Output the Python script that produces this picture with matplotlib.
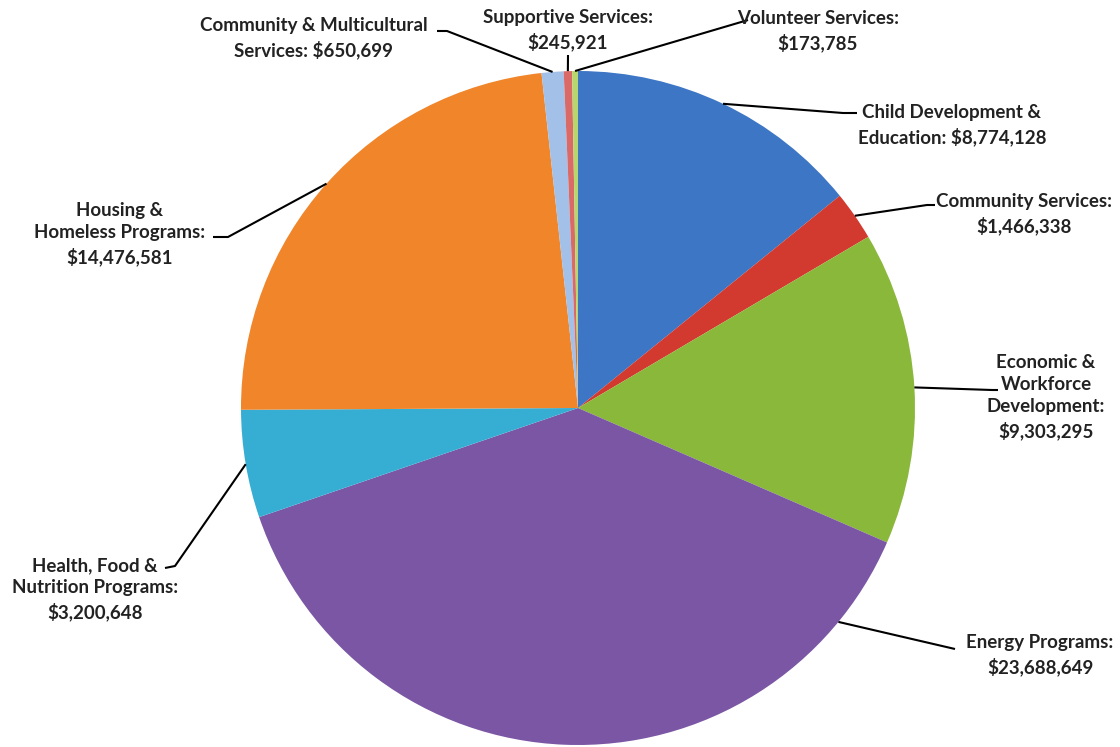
import numpy as np
import matplotlib
matplotlib.use("Agg")
from matplotlib import pyplot as plt

# slices, clockwise from 12 o'clock
programs = ["Child Development &\nEducation: $8,774,128",
            "Community Services:\n$1,466,338",
            "Economic &\nWorkforce\nDevelopment:\n$9,303,295",
            "Energy Programs:\n$23,688,649",
            "Health, Food &\nNutrition Programs:\n$3,200,648",
            "Housing &\nHomeless Programs:\n$14,476,581",
            "Community & Multicultural\nServices: $650,699",
            "Supportive Services:\n$245,921",
            "Volunteer Services:\n$173,785"]
funding = [8774128, 1466338, 9303295, 23688649, 3200648,
           14476581, 650699, 245921, 173785]
colors = ["#3d76c4", "#d2392f", "#8ab83a", "#7a56a4", "#36aed4",
          "#f0852a", "#a3c0e8", "#d96a68", "#b8d66e"]

W, H = 1120, 747
CX, CY, R = 578, H - 408, 337

# label layout in pixel coords (y from top): text centre, elbow, tail end
label_xy = [(952, 125), (1024, 214), (1046, 397), (1040, 655), (95, 589),
            (120, 234), (314, 38), (568, 30), (818, 31)]
elbow = [(843, 113), (927, 205), (992, 390), (955, 649), (175, 566),
         (228, 237), (447, 31), (568, 55), (748, 20)]
tail = [(857, 113), (935, 205), (998, 390), (955, 649), (165, 568),
        (213, 237), (437, 31), (568, 55), (748, 20)]
# leader attachment angle override (Energy is not at its mid angle)
attach_override = {3: -39.4}

fig = plt.figure(figsize=(W / 100, H / 100), dpi=100)
ax = fig.add_axes([0, 0, 1, 1])

wedges, _ = ax.pie(funding, colors=colors, startangle=90, counterclock=False,
                   radius=R, center=(CX, CY), frame=True,
                   wedgeprops=dict(edgecolor="none", linewidth=0))
ax.set_xlim(0, W)
ax.set_ylim(0, H)
ax.set_aspect("equal")
ax.axis("off")

for i, w in enumerate(wedges):
    ang = attach_override.get(i, (w.theta1 + w.theta2) / 2.0)
    px = CX + R * np.cos(np.radians(ang))
    py = CY + R * np.sin(np.radians(ang))
    ex, ey = elbow[i]
    tx, ty = tail[i]
    ax.plot([px, ex, tx], [py, H - ey, H - ty], color="black", lw=1.5,
            solid_capstyle="butt", zorder=3)
    lx, ly = label_xy[i]
    ax.text(lx, H - ly, programs[i], ha="center", va="center",
            fontsize=13.5, fontweight="bold", family="Lato",
            color="#222222", linespacing=1.38)

fig.savefig("out.png", dpi=100)
